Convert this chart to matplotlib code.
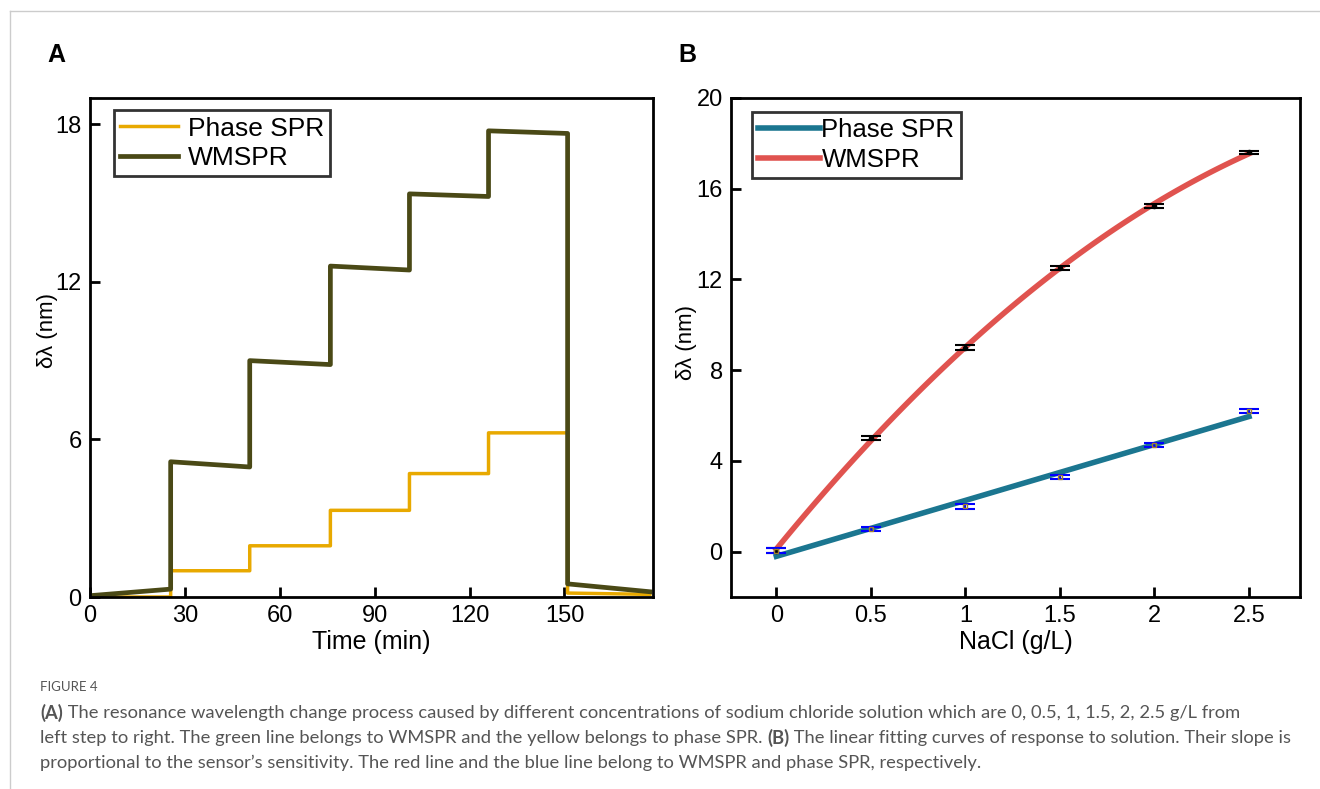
import numpy as np
import matplotlib.pyplot as plt
from matplotlib.lines import Line2D

plt.rcParams['font.family'] = ['Liberation Sans', 'DejaVu Sans']

# panel A: time traces (step start / end values)
time_pts = [0, 25.5, 25.5, 50.5, 50.5, 76, 76, 101, 101, 126, 126, 151, 151, 177]
wmspr_trace = [0.05, 0.3, 5.15, 4.95, 9.0, 8.85, 12.6, 12.45, 15.35, 15.25, 17.75, 17.65, 0.5, 0.2]
phase_trace = [0.0, 0.0, 1.0, 1.0, 1.95, 1.95, 3.3, 3.3, 4.7, 4.7, 6.25, 6.25, 0.15, 0.1]

# panel B: response vs concentration
nacl = [0, 0.5, 1, 1.5, 2, 2.5]
wmspr_resp = [0.05, 5.0, 9.0, 12.5, 15.25, 17.6]
wmspr_err = [0.12, 0.1, 0.1, 0.08, 0.08, 0.06]
phase_resp = [0.05, 1.0, 2.0, 3.3, 4.7, 6.2]
phase_err = [0.1, 0.08, 0.1, 0.08, 0.08, 0.1]

c_wm = '#4a4916'
c_ph = '#e8a900'
c_red = '#e0534f'
c_teal = '#1b7690'

fig = plt.figure(figsize=(13.2, 7.89), dpi=100)

# frame lines of the page
fig.add_artist(Line2D([10/1320, 1], [1-11/789, 1-11/789], color='#cccccc', lw=1))
fig.add_artist(Line2D([10/1320, 10/1320], [0, 1-11/789], color='#cccccc', lw=1))

axA = fig.add_axes([90/1320, 1-597/789, 563/1320, 499/789])
axB = fig.add_axes([731/1320, 1-597/789, 569/1320, 499/789])

for ax in (axA, axB):
    for s in ax.spines.values():
        s.set_linewidth(2.0)
    ax.tick_params(direction='in', length=7, width=2, labelsize=17, pad=6)

axA.plot(time_pts, phase_trace, color=c_ph, lw=2.5, label='Phase SPR')
axA.plot(time_pts, wmspr_trace, color=c_wm, lw=3.4, label='WMSPR')
axA.set_xlim(0, 178)
axA.set_ylim(0, 19)
axA.set_xticks([0, 30, 60, 90, 120, 150])
axA.set_yticks([0, 6, 12, 18])
axA.set_xlabel('Time (min)', fontsize=18, labelpad=2)
axA.set_ylabel('δλ (nm)', fontsize=16)
axA.yaxis.set_label_coords(-0.057, 0.535)
legA = axA.legend(loc='upper left', bbox_to_anchor=(0.042, 0.976), borderaxespad=0,
                  fontsize=19, frameon=True, fancybox=False, edgecolor='black',
                  handlelength=2.2, handletextpad=0.35, borderpad=0.25, labelspacing=0.2)
legA.get_frame().set_linewidth(2)

# fits
xf = np.linspace(0, 2.5, 100)
p_wm = np.polyfit(nacl, wmspr_resp, 2)
p_ph = np.polyfit(nacl, phase_resp, 1)
axB.plot(xf, np.polyval(p_ph, xf), color=c_teal, lw=4, label='Phase SPR', zorder=2)
axB.plot(xf, np.polyval(p_wm, xf), color=c_red, lw=4, label='WMSPR', zorder=2)
axB.errorbar(nacl, wmspr_resp, yerr=wmspr_err, fmt='o', ms=3, color='black',
             ecolor='black', capsize=7, capthick=1.5, elinewidth=1.5, zorder=3)
axB.errorbar(nacl, phase_resp, yerr=phase_err, fmt='s', ms=3, mfc='none', mec='#a08030',
             ecolor='blue', capsize=7, capthick=1.5, elinewidth=1.5, zorder=3)
axB.set_xlim(-0.24, 2.77)
axB.set_ylim(-2, 20)
axB.set_xticks(nacl)
axB.set_xticklabels(['0', '0.5', '1', '1.5', '2', '2.5'])
axB.set_yticks([0, 4, 8, 12, 16, 20])
axB.set_xlabel('NaCl (g/L)', fontsize=18, labelpad=2)
axB.set_ylabel('δλ (nm)', fontsize=16)
axB.yaxis.set_label_coords(-0.06, 0.51)
h, l = axB.get_legend_handles_labels()
legB = axB.legend(h[:2], l[:2], loc='upper left', bbox_to_anchor=(0.037, 0.972), borderaxespad=0,
                  fontsize=18.5, frameon=True, fancybox=False, edgecolor='black',
                  handlelength=2.4, handletextpad=0.05, borderpad=0.25, labelspacing=0.2)
legB.get_frame().set_linewidth(2)

fig.text(47/1320, 1-55/789, 'A', fontsize=18, fontweight='bold', va='center')
fig.text(678/1320, 1-55/789, 'B', fontsize=18, fontweight='bold', va='center')

cap_font = ['Lato', 'DejaVu Sans']
fig.text(40/1320, 1-687/789, 'FIGURE 4', fontsize=9.5, color='#555555', va='center',
         family=cap_font)
lines = [
    [('(A)', 'bold'), (' The resonance wavelength change process caused by different concentrations of sodium chloride solution which are 0, 0.5, 1, 1.5, 2, 2.5 g/L from', 'normal')],
    [('left step to right. The green line belongs to WMSPR and the yellow belongs to phase SPR. ', 'normal'), ('(B)', 'bold'), (' The linear fitting curves of response to solution. Their slope is', 'normal')],
    [('proportional to the sensor\u2019s sensitivity. The red line and the blue line belong to WMSPR and phase SPR, respectively.', 'normal')],
]
fig.canvas.draw()
rend = fig.canvas.get_renderer()
for i, parts in enumerate(lines):
    x = 40 / 1320
    y = 1 - (713 + 25 * i) / 789
    for txt, w in parts:
        t = fig.text(x, y, txt, fontsize=13.2, color='#555555', fontweight=w,
                     va='center', family=cap_font)
        bb = t.get_window_extent(renderer=rend)
        x += bb.width / fig.bbox.width

fig.savefig('out.png', dpi=100)
